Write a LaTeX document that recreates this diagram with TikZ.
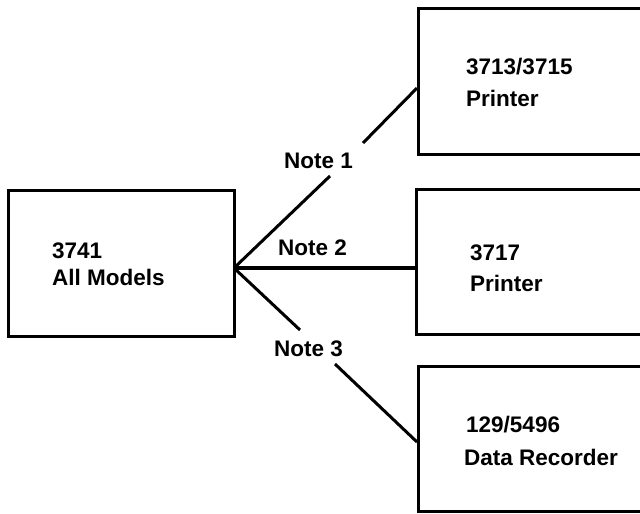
\documentclass[tikz,border=0pt]{standalone}
\usepackage{fontspec}
\setmainfont{Liberation Sans}
\begin{document}
\begin{tikzpicture}[x=1pt,y=-1pt,
  box/.style={draw=black,line width=3pt,rectangle,inner sep=0pt},
  txt/.style={anchor=base west,inner sep=0pt,font=\bfseries\fontsize{22.5}{27}\selectfont},
  wire/.style={draw=black,line width=3pt}]
\useasboundingbox (0,0) rectangle (640,514);
\fill[white] (0,0) rectangle (640,514);
\clip (0,0) rectangle (640,514);
% boxes
\node[box,anchor=north west,minimum width=226pt,minimum height=146pt] (m) at (7,189) {};
\node[box,anchor=north west,minimum width=260pt,minimum height=146pt] (a) at (417,7) {};
\node[box,anchor=north west,minimum width=260pt,minimum height=145pt] (b) at (415,188) {};
\node[box,anchor=north west,minimum width=260pt,minimum height=145pt] (c) at (417,365) {};
% texts
\node[txt] (m1) at (52,258) {3741};
\node[txt] (m2) at (52,285) {All Models};
\node[txt] (a1) at (466,74) {3713/3715};
\node[txt] (a2) at (466,106) {Printer};
\node[txt] (b1) at (470,260) {3717};
\node[txt] (b2) at (470,291) {Printer};
\node[txt] (c1) at (466,432) {129/5496};
\node[txt] (c2) at (464,465) {Data Recorder};
% connectors
\coordinate (hub) at (234,268);
\coordinate (ea) at (417,88);
\coordinate (eb) at (415,268);
\coordinate (ec) at (417,442);
\coordinate (g1a) at (330,176);
\coordinate (g1b) at (363,143);
\coordinate (g3a) at (300,330);
\coordinate (g3b) at (335,364);
\draw[wire] (hub) -- (g1a);
\draw[wire] (g1b) -- (ea);
\draw[wire,line width=3.6pt] (hub) -- (eb);
\draw[wire] (hub) -- (g3a);
\draw[wire] (g3b) -- (ec);
% labels
\node[txt] (n1) at (284,168) {Note 1};
\node[txt] (n2) at (278,255) {Note 2};
\node[txt] (n3) at (274,356) {Note 3};
\end{tikzpicture}
\end{document}
